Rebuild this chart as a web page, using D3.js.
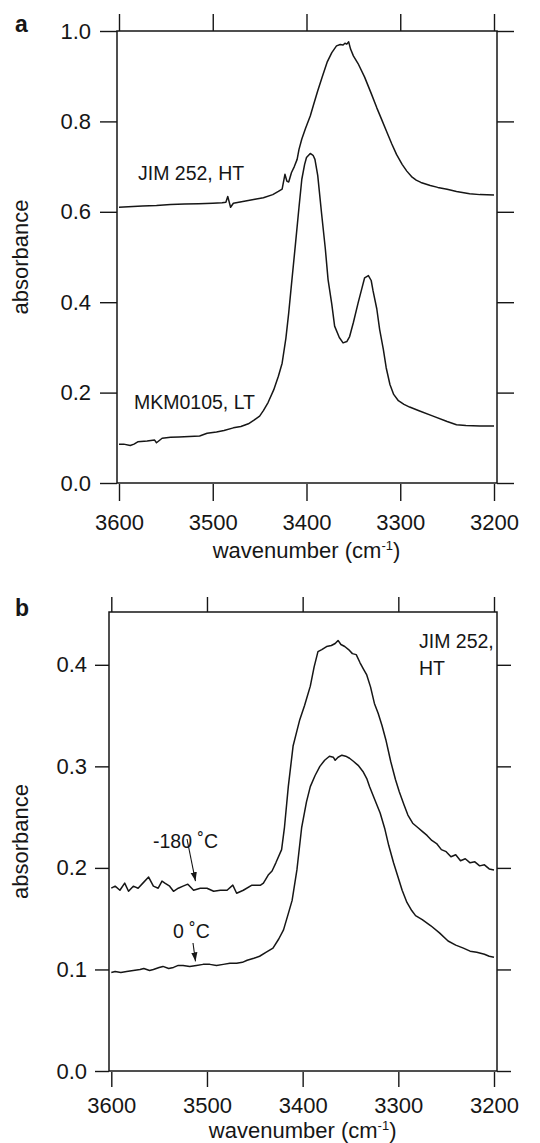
<!DOCTYPE html>
<html><head><meta charset="utf-8">
<script src="https://cdn.jsdelivr.net/npm/d3@7"></script>
<style>
body{margin:0;background:#fff}
svg{display:block}
text{font-family:"Liberation Sans",Arial,Helvetica,sans-serif;fill:#161616}
</style>
</head><body>
<svg id="c" width="540" height="1143"></svg>
<script>
// ---------- DATA ----------
const xTicks = [3600, 3500, 3400, 3300, 3200];
const yTicksA = [0.0, 0.2, 0.4, 0.6, 0.8, 1.0];
const yTicksB = [0.0, 0.1, 0.2, 0.3, 0.4];

// Panel a: JIM 252, HT
const jimWn = [3600,3590,3575,3560,3545,3530,3515,3500,3490,3486,3484,3481,3478,3465,3455,3446,3436,3430,3426,3423,3421,3419,3416,3413,3410,3408,3405,3401,3396,3392,3388,3383,3378,3373,3368,3364,3361,3359,3357,3355,3353,3350,3345,3338,3331,3325,3320,3314,3309,3304,3298,3293,3288,3283,3278,3268,3260,3250,3240,3226,3215,3200];
const jimAbs = [0.610,0.611,0.613,0.614,0.616,0.617,0.618,0.619,0.620,0.621,0.634,0.610,0.619,0.624,0.628,0.631,0.638,0.645,0.650,0.683,0.668,0.666,0.687,0.700,0.716,0.738,0.761,0.785,0.812,0.840,0.868,0.900,0.931,0.952,0.967,0.970,0.969,0.973,0.971,0.976,0.960,0.945,0.928,0.898,0.862,0.830,0.805,0.775,0.750,0.727,0.705,0.690,0.678,0.670,0.665,0.658,0.654,0.650,0.645,0.640,0.638,0.637];

// Panel a: MKM0105, LT
const mkmWn = [3600,3595,3588,3584,3580,3570,3562,3560,3554,3545,3536,3525,3514,3506,3496,3488,3478,3470,3462,3456,3450,3446,3441,3435,3430,3426,3422,3419,3416,3412,3408,3405,3402,3400,3396,3393,3391,3388,3384,3380,3377,3373,3370,3365,3361,3357,3354,3350,3345,3341,3338,3334,3331,3329,3325,3322,3318,3315,3311,3307,3302,3296,3290,3280,3265,3250,3240,3230,3215,3200];
const mkmAbs = [0.086,0.086,0.083,0.086,0.091,0.093,0.095,0.089,0.099,0.101,0.102,0.103,0.104,0.110,0.113,0.116,0.122,0.125,0.131,0.139,0.148,0.160,0.178,0.206,0.236,0.265,0.320,0.376,0.440,0.524,0.610,0.672,0.705,0.720,0.729,0.725,0.716,0.680,0.598,0.520,0.450,0.395,0.347,0.322,0.310,0.313,0.324,0.355,0.398,0.430,0.454,0.459,0.448,0.425,0.385,0.340,0.295,0.255,0.218,0.196,0.182,0.174,0.168,0.160,0.148,0.136,0.129,0.127,0.126,0.126];

// Panel b: -180 °C
const coldWn = [3600,3596,3591,3586,3582,3577,3572,3567,3561,3556,3551,3547,3544,3539,3535,3530,3525,3520,3514,3507,3500,3493,3486,3479,3473,3469,3462,3453,3444,3441,3436,3432,3428,3422,3419,3415,3410,3406,3403,3398,3392,3388,3384,3380,3375,3370,3366,3363,3360,3356,3352,3348,3344,3340,3336,3333,3329,3325,3321,3317,3313,3308,3303,3299,3294,3290,3285,3280,3275,3270,3265,3260,3255,3250,3245,3240,3235,3230,3225,3220,3215,3210,3205,3200];
const coldAbs = [0.180,0.182,0.178,0.185,0.177,0.182,0.180,0.185,0.191,0.182,0.180,0.187,0.185,0.182,0.177,0.180,0.182,0.184,0.178,0.180,0.180,0.177,0.178,0.178,0.183,0.175,0.178,0.183,0.183,0.185,0.193,0.197,0.205,0.218,0.240,0.280,0.320,0.335,0.346,0.360,0.379,0.398,0.413,0.415,0.418,0.419,0.421,0.424,0.420,0.418,0.415,0.411,0.410,0.402,0.395,0.390,0.378,0.362,0.352,0.340,0.326,0.305,0.287,0.275,0.262,0.252,0.244,0.240,0.236,0.232,0.227,0.224,0.218,0.216,0.211,0.213,0.207,0.209,0.205,0.206,0.202,0.203,0.199,0.198];

// Panel b: 0 °C
const warmWn = [3600,3596,3590,3584,3577,3570,3566,3560,3556,3550,3546,3540,3535,3530,3525,3518,3511,3504,3497,3490,3483,3476,3469,3463,3458,3451,3445,3438,3431,3425,3420,3415,3411,3406,3401,3396,3392,3387,3382,3377,3372,3368,3366,3363,3359,3355,3351,3347,3342,3337,3333,3330,3325,3319,3314,3310,3305,3300,3296,3291,3286,3282,3275,3266,3257,3248,3240,3232,3225,3218,3210,3205,3200];
const warmAbs = [0.097,0.098,0.097,0.098,0.099,0.100,0.101,0.099,0.100,0.102,0.103,0.101,0.102,0.104,0.104,0.103,0.104,0.105,0.105,0.104,0.105,0.106,0.106,0.107,0.109,0.111,0.113,0.117,0.121,0.130,0.139,0.155,0.168,0.198,0.240,0.265,0.280,0.291,0.300,0.306,0.310,0.309,0.306,0.309,0.311,0.310,0.308,0.305,0.301,0.295,0.288,0.280,0.268,0.254,0.238,0.222,0.205,0.190,0.178,0.166,0.158,0.153,0.149,0.143,0.136,0.128,0.124,0.121,0.118,0.117,0.115,0.113,0.112];

// ---------- DRAW ----------
const svg = d3.select("#c");
const INK = "#161616";
const FS = 22;

svg.append("defs").append("marker")
  .attr("id","arr").attr("viewBox","0 0 10 10").attr("refX",10).attr("refY",5)
  .attr("markerWidth",9).attr("markerHeight",9).attr("markerUnits","userSpaceOnUse")
  .attr("orient","auto")
  .append("path").attr("d","M0,1.5 L10,5 L0,8.5 Z").attr("fill",INK);

function panel(p) {
  const x = d3.scaleLinear().domain([3600, 3200]).range(p.xr);
  const y = d3.scaleLinear().domain(p.yd).range([p.b, p.t]);
  const g = svg.append("g");

  const styleAxis = sel => {
    sel.select(".domain").remove();
    sel.selectAll("line").attr("stroke", INK).attr("stroke-width", 1.4);
    sel.selectAll("text").attr("font-size", FS).attr("fill", INK)
      .attr("font-family", '"Liberation Sans",Arial,Helvetica,sans-serif');
  };

  g.append("g").attr("transform", `translate(${p.l},0)`)
    .call(d3.axisLeft(y).tickValues(p.yt).tickSize(p.tl).tickPadding(p.lp).tickFormat(d3.format(".1f")))
    .call(styleAxis);
  g.append("g").attr("transform", `translate(${p.r},0)`)
    .call(d3.axisRight(y).tickValues(p.yt).tickSize(p.tl).tickFormat(""))
    .call(styleAxis);
  g.append("g").attr("transform", `translate(0,${p.b + 1})`)
    .call(d3.axisBottom(x).tickValues(xTicks).tickSize(p.tb).tickPadding(p.bp).tickFormat(d3.format("d")))
    .call(styleAxis);
  g.append("g").attr("transform", `translate(0,${p.t})`)
    .call(d3.axisTop(x).tickValues(xTicks).tickSize(p.tb).tickFormat(""))
    .call(styleAxis);

  g.append("rect").attr("x", p.l).attr("y", p.t).attr("width", p.r - p.l).attr("height", p.b - p.t)
    .attr("fill", "none").attr("stroke", INK).attr("stroke-width", 1.5);

  const line = d3.line().x(d => x(d[0])).y(d => y(d[1]));
  p.series.forEach(s => {
    g.append("path").datum(d3.zip(s[0], s[1])).attr("d", line)
      .attr("fill", "none").attr("stroke", INK).attr("stroke-width", 1.5).attr("stroke-linejoin", "round");
  });

  const t = g.append("text").attr("x", (p.xr[0] + p.xr[1]) / 2).attr("y", p.titleY)
    .attr("text-anchor", "middle").attr("font-size", FS);
  t.append("tspan").text("wavenumber (cm");
  t.append("tspan").attr("font-size", 13).attr("dy", -8).text("-1");
  t.append("tspan").attr("dy", 8).text(")");

  g.append("text").attr("transform", `translate(${p.ylx},${(p.t + p.b) / 2}) rotate(-90)`)
    .attr("text-anchor", "middle").attr("font-size", FS).text("absorbance");

  g.append("text").attr("x", 15).attr("y", p.letterY).attr("font-size", 23)
    .attr("font-weight", "bold").text(p.letter);

  return {x, y, g};
}

const A = panel({
  l: 117, r: 497, t: 31, b: 483, xr: [119, 494], yd: [0, 1.0], yt: yTicksA,
  tl: 17, lp: 9, tb: 17, bp: 13, titleY: 558, ylx: 28, letterY: 32, letter: "a",
  series: [[jimWn, jimAbs], [mkmWn, mkmAbs]]
});
A.g.append("text").attr("x", 138).attr("y", 180).attr("font-size", 19.5).text("JIM 252, HT");
A.g.append("text").attr("x", 134).attr("y", 409).attr("font-size", 19.5).text("MKM0105, LT");

const B = panel({
  l: 109, r: 497, t: 612, b: 1071, xr: [111.3, 494], yd: [0, 0.452], yt: yTicksB,
  tl: 14, lp: 8, tb: 15, bp: 10, titleY: 1138, ylx: 28, letterY: 616, letter: "b",
  series: [[coldWn, coldAbs], [warmWn, warmAbs]]
});
B.g.append("text").attr("x", 419).attr("y", 648).attr("font-size", 19.5).text("JIM 252,");
B.g.append("text").attr("x", 419).attr("y", 675).attr("font-size", 19.5).text("HT");
B.g.append("text").attr("x", 153).attr("y", 848).attr("font-size", 19.5).text("-180 ˚C");
B.g.append("text").attr("x", 173).attr("y", 938).attr("font-size", 19.5).text("0 ˚C");
B.g.append("line").attr("x1", 187).attr("y1", 839).attr("x2", B.x(3512)).attr("y2", B.y(0.187))
  .attr("stroke", INK).attr("stroke-width", 1.1).attr("marker-end", "url(#arr)");
B.g.append("line").attr("x1", 193).attr("y1", 943).attr("x2", B.x(3512)).attr("y2", B.y(0.108))
  .attr("stroke", INK).attr("stroke-width", 1.1).attr("marker-end", "url(#arr)");
</script>
</body></html>
